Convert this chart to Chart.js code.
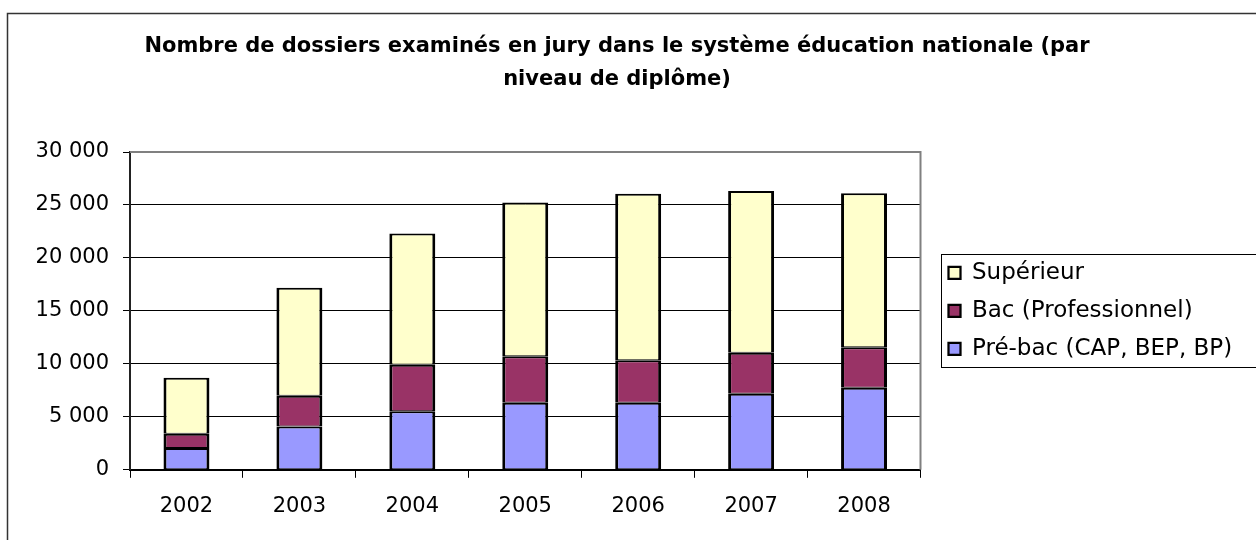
<!DOCTYPE html>
<html lang="fr">
<head>
    <meta charset="UTF-8">
    <title>Nombre de dossiers examinés en jury</title>
    <script src="https://cdn.jsdelivr.net/npm/chart.js"></script>
    <style>
        html, body { margin: 0; padding: 0; background: #fff; }
        #wrap { width: 1256px; height: 540px; position: relative; }
    </style>
</head>
<body>
    <div id="wrap">
        <canvas id="chart" width="1256" height="540"></canvas>
    </div>

    <script>
        // Données
        const annees = ['2002', '2003', '2004', '2005', '2006', '2007', '2008'];
        const preBac = [2060, 4080, 5530, 6320, 6320, 7170, 7740];
        const bacPro = [1350, 2910, 4390, 4390, 4010, 3890, 3820];
        const superieur = [5280, 10200, 12380, 14530, 15740, 15260, 14540];
        const titre = ['Nombre de dossiers examinés en jury dans le système éducation nationale (par', 'niveau de diplôme)'];

        const police = '"DejaVu Sans", Arial, sans-serif';

        function milliers(v) {
            return String(v).replace(/\B(?=(\d{3})+(?!\d))/g, ' ');
        }

        // Cadre extérieur, bord de la zone de traçage et cadre de la légende
        const cadres = {
            id: 'cadres',
            afterLayout(chart) {
                // décaler un peu la légende vers la droite
                const l = chart.legend;
                l.left += 13;
                l.right += 13;
            },
            beforeDraw(chart) {
                const ctx = chart.ctx;
                ctx.save();
                ctx.strokeStyle = '#333';
                ctx.lineWidth = 1.5;
                ctx.strokeRect(7.5, 13.5, chart.width + 20, chart.height + 20);
                ctx.restore();
            },
            afterDraw(chart) {
                const ctx = chart.ctx;
                const a = chart.chartArea;
                ctx.save();
                ctx.strokeStyle = '#808080';
                ctx.lineWidth = 2;
                ctx.beginPath();
                ctx.moveTo(a.left, a.top);
                ctx.lineTo(a.right, a.top);
                ctx.lineTo(a.right, a.bottom);
                ctx.stroke();
                const boxes = chart.legend.legendHitBoxes;
                if (boxes && boxes.length) {
                    const x0 = Math.min(...boxes.map(b => b.left)) - 8;
                    const y0 = Math.min(...boxes.map(b => b.top)) - 7;
                    const y1 = Math.max(...boxes.map(b => b.top + b.height)) + 7;
                    ctx.strokeStyle = '#000';
                    ctx.lineWidth = 1;
                    ctx.strokeRect(Math.round(x0) + 0.5, Math.round(y0) + 0.5, chart.width, Math.round(y1 - y0));
                }
                ctx.restore();
            }
        };

        const ctx = document.getElementById('chart').getContext('2d');
        new Chart(ctx, {
            type: 'bar',
            data: {
                labels: annees,
                datasets: [
                    { label: 'Pré-bac (CAP, BEP, BP)', data: preBac, backgroundColor: '#9999FF' },
                    { label: 'Bac (Professionnel)', data: bacPro, backgroundColor: '#993366' },
                    { label: 'Supérieur', data: superieur, backgroundColor: '#FFFFCC' }
                ].map(d => Object.assign(d, {
                    borderColor: '#000',
                    borderWidth: { top: 2, bottom: 1, left: 3, right: 3 },
                    borderSkipped: false,
                    categoryPercentage: 1,
                    barPercentage: 0.407
                }))
            },
            options: {
                responsive: false,
                animation: false,
                devicePixelRatio: 1,
                layout: { padding: { left: 10, right: 32, top: 12, bottom: 5 } },
                plugins: {
                    title: {
                        display: true,
                        text: titre,
                        color: '#000',
                        font: { family: police, size: 21, weight: 'bold', lineHeight: '33px' },
                        padding: { top: 18.5, bottom: 55.5 }
                    },
                    legend: {
                        position: 'right',
                        fullSize: false,
                        reverse: true,
                        labels: {
                            color: '#000',
                            boxWidth: 12,
                            boxHeight: 12,
                            padding: 15,
                            font: { family: police, size: 23 }
                        }
                    },
                    tooltip: { enabled: false }
                },
                scales: {
                    x: {
                        stacked: true,
                        grid: { display: true, drawOnChartArea: false, color: '#000', tickLength: 8, offset: true },
                        border: { color: '#000', width: 2 },
                        ticks: { color: '#000', padding: 16, maxRotation: 0, font: { family: police, size: 21 } }
                    },
                    y: {
                        stacked: true,
                        min: 0,
                        max: 30000,
                        afterFit(s) { s.width = 120; },
                        grid: { color: '#000', lineWidth: 1, tickLength: 7 },
                        border: { color: '#222', width: 2 },
                        ticks: {
                            stepSize: 5000,
                            color: '#000',
                            padding: 14,
                            font: { family: police, size: 21 },
                            callback: v => milliers(v)
                        }
                    }
                }
            },
            plugins: [cadres]
        });
    </script>
</body>
</html>
